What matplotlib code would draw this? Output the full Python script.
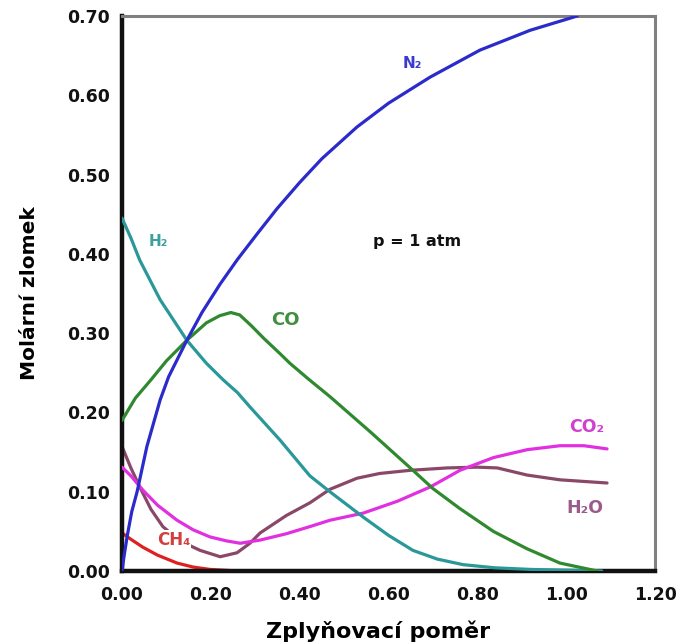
import matplotlib
matplotlib.use("Agg")
import matplotlib.pyplot as plt

# ---- data ----
n2_x = [0, 0.005, 0.012, 0.022, 0.034, 0.056, 0.086, 0.105, 0.146, 0.18, 0.221, 0.26, 0.304,
        0.349, 0.40, 0.45, 0.529, 0.60, 0.694, 0.806, 0.919, 1.025]
n2_y = [0, 0.02, 0.045, 0.075, 0.10, 0.157, 0.216, 0.245, 0.291, 0.326, 0.362, 0.393, 0.425,
        0.457, 0.49, 0.52, 0.56, 0.59, 0.623, 0.657, 0.682, 0.70]

h2_x = [0, 0.02, 0.04, 0.086, 0.146, 0.19, 0.228, 0.26, 0.288, 0.356, 0.423, 0.468, 0.543,
        0.60, 0.655, 0.71, 0.768, 0.84, 0.92, 1.0, 1.08]
h2_y = [0.445, 0.42, 0.392, 0.342, 0.291, 0.262, 0.241, 0.225, 0.207, 0.165, 0.12, 0.10, 0.068,
        0.045, 0.026, 0.015, 0.008, 0.004, 0.002, 0.001, 0.0]

co_x = [0, 0.03, 0.065, 0.10, 0.146, 0.19, 0.22, 0.245, 0.265, 0.29, 0.32, 0.356, 0.378,
        0.42, 0.468, 0.56, 0.655, 0.70, 0.76, 0.836, 0.912, 0.986, 1.07]
co_y = [0.19, 0.218, 0.241, 0.265, 0.291, 0.313, 0.322, 0.326, 0.323, 0.31, 0.293, 0.274, 0.262,
        0.242, 0.22, 0.175, 0.127, 0.104, 0.079, 0.050, 0.028, 0.010, 0.0]

h2o_x = [0, 0.02, 0.04, 0.065, 0.092, 0.13, 0.176, 0.221, 0.259, 0.288, 0.311, 0.37, 0.423,
         0.468, 0.529, 0.58, 0.649, 0.732, 0.80, 0.845, 0.912, 0.986, 1.092]
h2o_y = [0.157, 0.13, 0.106, 0.078, 0.056, 0.038, 0.026, 0.018, 0.023, 0.035, 0.048, 0.07, 0.086,
         0.103, 0.117, 0.123, 0.127, 0.13, 0.131, 0.130, 0.121, 0.115, 0.111]

co2_x = [0, 0.02, 0.047, 0.08, 0.124, 0.16, 0.198, 0.235, 0.266, 0.311, 0.37, 0.423, 0.468,
         0.543, 0.62, 0.694, 0.761, 0.836, 0.912, 0.986, 1.04, 1.092]
co2_y = [0.131, 0.12, 0.102, 0.083, 0.064, 0.052, 0.043, 0.038, 0.035, 0.039, 0.047, 0.056, 0.064,
         0.073, 0.088, 0.106, 0.127, 0.143, 0.153, 0.158, 0.158, 0.154]

ch4_x = [0, 0.02, 0.047, 0.08, 0.124, 0.16, 0.198, 0.23, 0.26]
ch4_y = [0.048, 0.04, 0.030, 0.020, 0.010, 0.005, 0.002, 0.001, 0.0]

x_ticks = [0.0, 0.2, 0.4, 0.6, 0.8, 1.0, 1.2]
y_ticks = [0.0, 0.1, 0.2, 0.3, 0.4, 0.5, 0.6, 0.7]

# ---- figure ----
fig = plt.figure(figsize=(6.84, 6.43), dpi=100)
ax = fig.add_axes([122/684, 1 - 571/643, (655-122)/684, (571-16)/643])

fam = ["DejaVu Sans"]
style = dict(lw=2.3, solid_joinstyle="round", solid_capstyle="round")
ax.plot(ch4_x, ch4_y, color="#e02020", zorder=2, **style)
ax.plot(h2o_x, h2o_y, color="#8a4868", zorder=2, **style)
ax.plot(co2_x, co2_y, color="#e030e0", zorder=3, **style)
ax.plot(h2_x, h2_y, color="#2a9898", zorder=3, **style)
ax.plot(co_x, co_y, color="#2f8a2f", zorder=3, **style)
ax.plot(n2_x, n2_y, color="#2b2bcc", zorder=4, **style)

ax.set_xlim(0, 1.2)
ax.set_ylim(0, 0.7)

ax.set_xticks(x_ticks)
ax.set_xticklabels([f"{v:.2f}" for v in x_ticks])
ax.set_yticks(y_ticks)
ax.set_yticklabels([f"{v:.2f}" for v in y_ticks])
ax.set_xticks(x_ticks[1:-1], minor=True)
ax.set_yticks(y_ticks[1:-1], minor=True)
ax.tick_params(which="major", length=0, labelsize=12.5, colors="#111111")
ax.tick_params(axis="y", which="major", pad=9)
ax.tick_params(axis="x", which="major", pad=11)
ax.tick_params(which="minor", direction="in", length=10, width=1.5, color="#444444")
for lab in ax.get_xticklabels() + ax.get_yticklabels():
    lab.set_fontweight("bold")
    lab.set_family(fam)

for side in ("left", "bottom"):
    ax.spines[side].set_linewidth(3.2)
    ax.spines[side].set_color("#111111")
for side in ("top", "right"):
    ax.spines[side].set_linewidth(2.2)
    ax.spines[side].set_color("#808080")

ax.set_xlabel("Zplyňovací poměr", fontsize=16, fontweight="bold", family=fam)
ax.set_ylabel("Molární zlomek", fontsize=14.5, fontweight="bold", family=fam)
ax.xaxis.set_label_coords(0.48, -0.09)
ax.yaxis.set_label_coords(-0.155, 0.5)

tk = dict(fontweight="bold", family=fam, ha="center", va="center", zorder=6)
ax.text(0.653, 0.64, "N₂", color="#3a3ad0", fontsize=11, **tk)
ax.text(0.081, 0.415, "H₂", color="#3aa0a0", fontsize=11, **tk)
ax.text(0.367, 0.317, "CO", color="#3f8f3f", fontsize=13, **tk)
ax.text(0.664, 0.415, "p = 1 atm", color="#111111", fontsize=11.5, **tk)
ax.text(1.047, 0.182, "CO₂", color="#d040d0", fontsize=12.5, **tk)
ax.text(1.043, 0.079, "H₂O", color="#9a5a8a", fontsize=12.5, **tk)
ax.text(0.117, 0.039, "CH₄", color="#d04040", fontsize=12,
        bbox=dict(facecolor="white", edgecolor="none", pad=0.5), **tk)

fig.savefig("out.png", dpi=100)
